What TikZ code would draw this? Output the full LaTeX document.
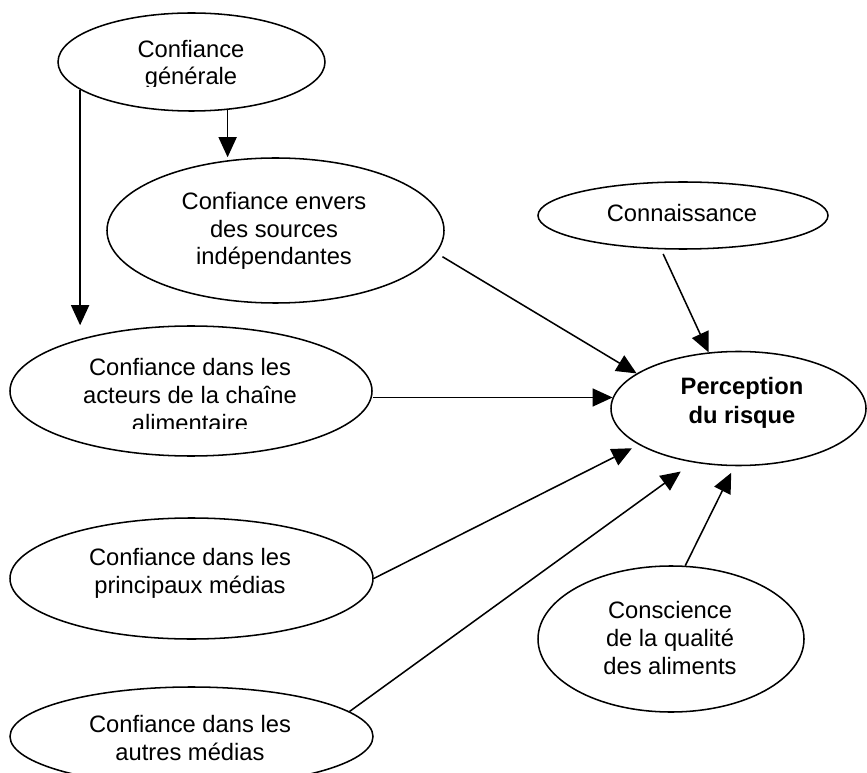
\documentclass[tikz,border=0pt]{standalone}
\usepackage{fontspec}
\setmainfont{Liberation Sans}
\usetikzlibrary{shapes.geometric,arrows.meta}
\begin{document}
\begin{tikzpicture}[x=0.75pt,y=-0.75pt,
  oval/.style={ellipse,draw,line width=1.15pt,inner sep=0pt},
  txt/.style={align=center,inner sep=0pt,font=\fontsize{17.8}{20.7}\selectfont},
  link/.style={line width=1.15pt,-{Triangle[length=15pt,width=13.5pt]}}]
\clip (0,0) rectangle (867,773);

% ovals
\node[oval,minimum width=200.25pt,minimum height=73.5pt]  (gen)    at (191.5,62)    {};
\node[oval,minimum width=252.75pt,minimum height=108.75pt](src)    at (275.5,230.5) {};
\node[oval,minimum width=217.5pt,minimum height=50.25pt]  (conn)   at (683,215.5)   {};
\node[oval,minimum width=271.5pt,minimum height=97.5pt]   (act)    at (191,391)     {};
\node[oval,minimum width=191.25pt,minimum height=85.5pt]  (perc)   at (738.5,408.5) {};
\node[oval,minimum width=272.25pt,minimum height=90.75pt] (princ)  at (191.5,578.5) {};
\node[oval,minimum width=199.5pt,minimum height=109.5pt]  (consc)  at (671,639)     {};
\node[oval,minimum width=272.25pt,minimum height=74.25pt] (autres) at (191.5,736.5) {};

% labels (the two text boxes that overflow are cut at their lower edge)
\begin{scope}
  \clip (58,13) rectangle (325,87);
  \node[txt] (tgen) at (191,65) {Confiance\\générale};
\end{scope}
\node[txt] (tsrc) at (274,231) {Confiance envers\\des sources\\indépendantes};
\node[txt] (tconn) at (682,213) {Connaissance};
\begin{scope}
  \clip (10,326) rectangle (372,428);
  \node[txt] (tact) at (190,395) {Confiance dans les\\acteurs de la chaîne\\alimentaire};
\end{scope}
\node[txt,font=\fontsize{17.8}{22}\selectfont\bfseries] (tperc) at (742,403) {Perception\\du risque};
\node[txt] (tprinc) at (190,573.5) {Confiance dans les\\principaux médias};
\node[txt] (tconsc) at (670,638) {Conscience\\de la qualité\\des aliments};
\node[txt] (tautres) at (190,738) {Confiance dans les\\autres médias};

% connectors
\draw[link] (gen.194.8) -- (gen.194.8 |- act.north);
\draw[link] (gen.307.8) -- (gen.307.8 |- src.north);
\draw[link,shorten <=5.2pt] (src.-8) -- (perc.161.6);
\draw[link,shorten <=3.8pt] (conn.237) -- (perc.118.4);
\draw[link] (perc.175.2 -| act.east) -- (perc.175.2);
\draw[link,shorten >=5.7pt] (princ.east) -- (perc.200.1);
\draw[link,shorten >=11.5pt] (autres.9.6) -- (perc.230.6);
\draw[link,shorten >=5.5pt] (consc.79.9) -- (perc.266.8);
\end{tikzpicture}
\end{document}
